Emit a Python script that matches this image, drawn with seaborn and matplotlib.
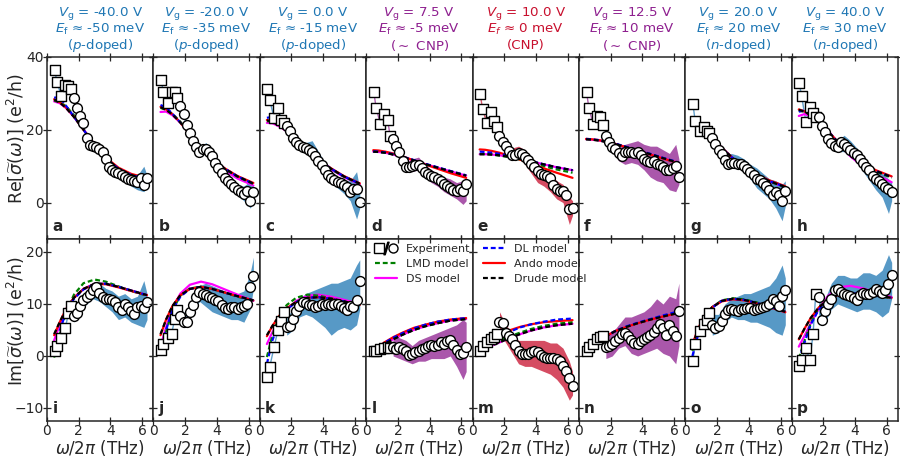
import matplotlib
matplotlib.use("Agg")
import matplotlib.pyplot as plt
import seaborn as sns
from matplotlib.lines import Line2D
from matplotlib.legend_handler import HandlerTuple

# --- frequency grids (THz) ---
SQ_F = [0.48, 0.63, 0.9, 1.15, 1.35, 1.52]
CIRC_F = [1.7, 1.9, 2.1, 2.3, 2.5, 2.7, 2.9, 3.1, 3.3, 3.5, 3.7, 3.9,
          4.1, 4.3, 4.5, 4.7, 4.9, 5.1, 5.3, 5.5, 5.7, 5.9, 6.1, 6.3]
BAND_F = [1.7, 2.1, 2.5, 2.9, 3.3, 3.7, 4.1, 4.5, 4.9, 5.3, 5.7, 6.1, 6.3]
MODEL_F = [0.45, 0.8, 1.2, 1.7, 2.3, 3.0, 3.7, 4.5, 5.3, 6.3]

# --- column headers ---
VG = ["-40.0", "-20.0", "0.0", "7.5", "10.0", "12.5", "20.0", "40.0"]
EF = ["-50", "-35", "-15", "-5", "0", "10", "20", "30"]
DOPING = [r"($p$-doped)", r"($p$-doped)", r"($p$-doped)", r"($\sim$ CNP)",
          "(CNP)", r"($\sim$ CNP)", r"($n$-doped)", r"($n$-doped)"]
REGIME = ["p", "p", "p", "near", "cnp", "near", "n", "n"]
LETTERS = "abcdefghijklmnop"

# --- Re part: experiment ---
RE_SQ = [
    [36.5, 33.1, 29.3, 32.2, 32.0, 31.3],
    [33.8, 30.4, 27.4, 30.4, 30.4, 28.8],
    [31.3, 28.1, 23.3, 26.0, 22.8, 22.0],
    [30.5, 26.0, 21.6, 24.4, 22.7, 18.2],
    [29.9, 25.8, 21.9, 24.9, 22.5, 20.9],
    [30.4, 26.0, 21.6, 23.7, 23.5, 21.4],
    [27.1, 22.3, 19.6, 20.7, 19.8, 19.0],
    [32.8, 29.2, 22.2, 26.3, 24.5, 23.5],
]
RE_CIRC = [
    [28.8, 26.0, 23.7, 21.9, 17.7, 15.8, 15.6, 15.4, 14.7, 13.8, 12.1, 9.8,
     8.9, 8.4, 8.0, 7.5, 7.0, 6.4, 6.1, 5.8, 5.6, 6.8, 4.9, 6.8],
    [26.5, 24.2, 21.4, 19.0, 16.8, 15.3, 14.0, 14.7, 14.8, 13.9, 12.8, 11.0,
     9.4, 8.0, 6.7, 6.0, 5.2, 4.3, 3.4, 2.9, 2.4, 3.2, 0.3, 2.9],
    [21.0, 19.6, 17.8, 16.6, 15.7, 15.2, 14.9, 14.4, 13.9, 12.9, 11.4, 10.3,
     8.9, 7.6, 6.7, 6.2, 5.7, 5.3, 4.8, 4.2, 2.9, 3.8, 3.6, 0.2],
    [17.6, 15.6, 14.0, 11.3, 9.8, 9.7, 10.1, 10.4, 10.3, 9.4, 8.5, 7.9,
     7.3, 7.0, 6.4, 5.8, 5.2, 4.6, 3.9, 3.5, 3.3, 3.7, 3.2, 5.1],
    [18.2, 16.7, 15.6, 14.2, 13.2, 13.1, 13.5, 13.3, 12.6, 11.7, 10.7, 9.8,
     8.8, 7.8, 7.5, 7.3, 6.7, 4.8, 3.8, 3.2, 3.3, 2.0, -1.8, -1.6],
    [18.2, 16.6, 15.4, 14.6, 13.5, 12.9, 14.0, 14.0, 13.8, 13.5, 14.0, 13.1,
     12.1, 11.4, 11.2, 11.4, 10.7, 10.3, 9.8, 8.9, 8.9, 9.5, 10.0, 7.0],
    [17.7, 16.2, 14.4, 13.4, 11.8, 10.6, 10.8, 11.0, 10.6, 10.5, 10.1, 9.3,
     8.4, 7.5, 6.6, 6.1, 5.3, 4.5, 3.5, 2.2, 2.8, 2.0, 0.5, 3.1],
    [23.5, 21.0, 19.3, 17.5, 16.3, 15.6, 15.4, 16.6, 16.0, 15.3, 14.4, 13.5,
     13.0, 12.0, 11.0, 9.8, 8.9, 7.4, 6.5, 5.8, 5.1, 4.3, 3.8, 2.9],
]
RE_LO = [
    [28, 23, 17, 15, 14, 11, 8, 6.8, 5.8, 4.5, 3.5, 3.0, 4.5],
    [25.5, 20.5, 16, 13, 13.5, 11, 8, 5, 3.5, 2, 0.5, -1.5, 0],
    [20, 16.5, 14.5, 13.5, 12.5, 10, 7.5, 5.5, 4, 2.5, 0.5, -4.5, -1.5],
    [16.5, 12.5, 8.5, 8.5, 9, 7, 5.5, 4.5, 3.0, 2.0, 1.0, -0.5, 0.5],
    [17, 14.5, 12.5, 12.5, 10.5, 8, 5.5, 4.5, 3, 1, 0, -6, -3.5],
    [17.5, 14.5, 11.5, 10.5, 11, 10.5, 9, 7, 6, 5.5, 3.5, 3, 5],
    [16.5, 13, 10.5, 9.5, 9.5, 8.5, 6.5, 4, 2.5, 1, -1.5, -5, -1],
    [22, 18, 15, 14, 14, 12.5, 11, 8.5, 6, 3.5, 1.5, -3, 0.5],
]
RE_HI = [
    [29.5, 24.5, 18.5, 16.5, 15.5, 13, 9.5, 8.5, 8, 7.5, 7.5, 10, 7.5],
    [27.5, 22.5, 17.5, 15, 16.5, 14.5, 10.5, 8, 6.5, 5, 4.5, 6, 4.5],
    [22, 19, 17, 16.5, 17, 14, 11, 8.5, 7, 6, 6, 8.5, 3.5],
    [19, 15, 11, 12, 12.5, 10.5, 9, 8, 7, 6.5, 5.5, 6, 6.5],
    [19.5, 17, 15, 15.5, 14.5, 12.5, 10, 8.5, 8, 6, 5, 1.5, 0.5],
    [19, 16.5, 15, 16, 16.5, 17, 16, 15.5, 15.5, 14.5, 13.5, 16, 12],
    [19, 15.5, 13, 13.5, 13, 12, 10.5, 9.5, 8, 6.5, 6, 5, 6],
    [24.5, 20.5, 17.5, 17, 18.5, 17, 15, 13, 10.5, 8.5, 8, 6.5, 5.5],
]

# --- Re part: models ---
RE_DRUDE = [
    [28.3, 27.5, 26.0, 23.5, 20.0, 15.8, 12.2, 9.3, 7.6, 6.4],
    [26.2, 25.5, 24.2, 22.0, 18.7, 15.0, 12.0, 9.3, 7.2, 5.2],
    [22.6, 22.2, 21.2, 19.7, 17.4, 14.5, 11.8, 9.3, 7.2, 5.2],
    [14.0, 13.9, 13.7, 13.2, 12.5, 11.6, 10.6, 9.6, 8.6, 7.4],
    [13.3, 13.3, 13.2, 13.0, 12.6, 12.0, 11.3, 10.5, 9.7, 8.9],
    [17.4, 17.3, 17.1, 16.7, 16.1, 15.2, 14.3, 13.3, 12.2, 10.9],
    [22.0, 21.3, 20.0, 17.8, 15.0, 12.2, 9.8, 7.6, 5.9, 4.3],
    [25.5, 25.0, 24.0, 22.2, 19.5, 16.2, 13.2, 10.6, 8.7, 7.0],
]
RE_ANDO = [
    [28.4, 27.6, 26.1, 23.6, 20.0, 15.9, 12.4, 9.6, 7.9, 6.7],
    [26.3, 25.6, 24.3, 22.0, 18.7, 15.0, 12.0, 9.4, 7.3, 5.4],
    [22.7, 22.3, 21.3, 19.7, 17.4, 14.5, 11.8, 9.4, 7.3, 5.3],
    [14.4, 14.3, 14.0, 13.5, 12.7, 11.6, 10.5, 9.3, 8.1, 6.8],
    [14.6, 14.5, 14.2, 13.7, 12.9, 11.8, 10.7, 9.4, 8.2, 6.8],
    [17.5, 17.4, 17.2, 16.8, 16.1, 15.2, 14.2, 13.2, 12.1, 10.8],
    [22.1, 21.4, 20.0, 17.8, 15.0, 12.2, 9.9, 7.8, 6.1, 4.5],
    [25.6, 25.1, 24.0, 22.2, 19.5, 16.3, 13.3, 10.8, 8.9, 7.2],
]
RE_DL = [
    [28.8, 29.0, 26.6, 23.6, 20.0, 15.8, 12.2, 9.3, 7.6, 6.4],
    [26.8, 26.2, 24.4, 22.0, 18.7, 15.0, 12.0, 9.3, 7.2, 5.2],
    [23.3, 23.5, 21.5, 19.6, 17.3, 14.5, 11.8, 9.3, 7.2, 5.2],
    [14.1, 14.0, 13.8, 13.3, 12.6, 11.7, 10.7, 9.7, 8.7, 7.5],
    [14.0, 13.9, 13.7, 13.4, 12.9, 12.2, 11.4, 10.5, 9.7, 8.9],
    [17.5, 17.4, 17.2, 16.8, 16.2, 15.3, 14.4, 13.4, 12.3, 11.0],
    [23.0, 22.0, 19.6, 17.3, 14.8, 12.2, 9.8, 7.6, 5.9, 4.3],
    [25.0, 25.3, 24.1, 22.2, 19.5, 16.2, 13.2, 10.6, 8.7, 7.0],
]
RE_LMD = [
    [28.0, 27.6, 26.5, 24.0, 20.2, 15.5, 11.9, 9.0, 7.3, 6.2],
    [26.0, 25.5, 24.4, 22.2, 18.8, 15.0, 11.9, 9.2, 7.1, 5.1],
    [22.3, 22.5, 21.6, 19.8, 17.4, 14.5, 11.7, 9.2, 7.1, 5.1],
    [14.0, 13.9, 13.7, 13.2, 12.5, 11.6, 10.6, 9.6, 8.6, 7.4],
    [13.3, 13.3, 13.2, 12.9, 12.5, 11.8, 11.0, 10.0, 9.1, 8.2],
    [17.4, 17.3, 17.1, 16.7, 16.1, 15.2, 14.3, 13.3, 12.2, 10.9],
    [22.0, 21.5, 20.2, 17.9, 15.0, 12.1, 9.7, 7.5, 5.8, 4.2],
    [25.2, 25.0, 24.2, 22.4, 19.6, 16.1, 13.0, 10.4, 8.5, 6.8],
]
RE_DS = [
    [27.8, 27.3, 26.0, 23.6, 20.1, 15.9, 12.2, 9.2, 7.4, 6.2],
    [24.9, 25.0, 24.0, 22.0, 18.8, 15.0, 11.7, 8.8, 6.6, 4.7],
    [21.9, 21.8, 21.0, 19.6, 17.4, 14.5, 11.7, 9.1, 7.0, 5.0],
    [14.0, 13.9, 13.7, 13.2, 12.5, 11.6, 10.6, 9.6, 8.6, 7.4],
    [13.3, 13.3, 13.2, 13.0, 12.6, 12.0, 11.3, 10.5, 9.7, 8.9],
    [17.4, 17.3, 17.1, 16.7, 16.1, 15.2, 14.3, 13.3, 12.2, 10.9],
    [21.8, 21.2, 20.0, 17.9, 15.1, 12.2, 9.7, 7.5, 5.8, 4.2],
    [23.8, 24.3, 23.8, 22.5, 19.8, 16.0, 12.7, 9.8, 7.7, 5.6],
]

# --- Im part: experiment ---
IM_SQ = [
    [1.0, 2.0, 3.5, 5.3, 8.2, 9.6],
    [1.2, 2.4, 3.4, 4.3, 7.2, 8.8],
    [-4.0, -2.1, 1.7, 5.0, 6.7, 8.4],
    [0.9, 1.0, 1.3, 1.5, 1.8, 1.5],
    [1.0, 2.0, 2.6, 3.3, 3.6, 4.2],
    [1.0, 1.7, 2.4, 3.3, 3.7, 3.9],
    [-0.9, 2.3, 4.9, 6.2, 6.9, 8.2],
    [-2.0, -0.7, 1.6, -0.8, 4.3, 12.0],
]
IM_CIRC = [
    [7.7, 8.2, 9.6, 10.7, 11.3, 11.9, 12.6, 13.2, 12.2, 11.3, 11.0, 11.0,
     10.7, 10.3, 9.4, 8.9, 10.0, 9.4, 8.6, 8.1, 9.4, 9.6, 9.2, 10.3],
    [7.6, 6.6, 6.6, 8.5, 9.9, 11.3, 12.3, 12.0, 11.7, 11.4, 11.2, 10.8,
     10.5, 9.8, 9.3, 9.0, 9.4, 9.5, 9.1, 9.5, 9.7, 10.0, 13.2, 15.3],
    [5.6, 5.8, 7.1, 8.6, 9.6, 10.3, 10.1, 9.8, 9.9, 9.5, 9.7, 10.0,
     9.8, 10.0, 9.8, 10.0, 10.0, 9.6, 9.2, 8.8, 9.6, 9.4, 10.8, 14.5],
    [1.8, 1.3, 1.8, 1.3, 0.9, 0.2, 0.4, 0.7, 1.0, 1.3, 1.6, 1.9,
     2.2, 2.0, 2.1, 2.7, 2.4, 2.9, 3.1, 2.2, 1.1, 0.4, 0.6, 1.7],
    [6.6, 6.3, 4.5, 3.8, 3.2, 2.2, 1.0, 0.3, 0.4, 0.4, 0.7, 1.0,
     0.7, 0.1, -0.1, -0.3, -0.4, -0.4, -0.6, -1.0, -2.0, -2.8, -4.2, -5.7],
    [1.7, 1.9, 2.3, 2.8, 3.4, 4.2, 4.4, 3.9, 3.1, 2.5, 2.4, 2.8,
     3.2, 3.7, 4.1, 4.7, 5.3, 6.2, 5.3, 4.1, 6.0, 4.8, 3.8, 8.7],
    [5.9, 5.4, 5.8, 6.8, 8.0, 8.8, 9.1, 8.8, 8.7, 9.0, 9.1, 9.2,
     9.3, 8.9, 9.1, 9.2, 9.4, 9.7, 10.0, 11.0, 10.5, 9.6, 11.5, 12.6],
    [11.3, 7.0, 8.6, 10.0, 11.0, 12.6, 12.8, 12.3, 12.0, 11.8, 11.5, 11.1,
     10.8, 11.8, 12.2, 12.0, 11.9, 12.4, 12.8, 12.5, 12.2, 12.7, 13.9, 15.5],
]
IM_LO = [
    [6.5, 8.5, 10, 11, 10.5, 9.5, 8.5, 7, 7.5, 6.5, 6, 5.5, 7],
    [6.5, 5.5, 8.5, 10.5, 9.5, 8.5, 8, 7.5, 7, 7, 6.5, 9, 13],
    [4, 5, 7.5, 8, 7.5, 6.5, 5.5, 4, 5, 5.5, 5, 6, 9],
    [0, -0.5, -1, -1.5, -1, -1, -0.5, -0.5, -0.5, 0, -2, -4.5, -3],
    [4.5, 2.5, 0.5, -1.5, -2, -2, -2.5, -3, -3.5, -4.5, -6, -8.5, -7.5],
    [-0.5, 0, 1.5, 2, 0.5, 0, 0.5, 1, 1.5, 0.5, 0, -1.5, 2],
    [4, 4.5, 6.5, 7.5, 7, 7, 6.5, 6.5, 6, 5.5, 4.5, 4, 6],
    [8, 6.5, 9, 10, 9.5, 9, 8.5, 9, 9, 8.5, 7.5, 8.5, 11],
]
IM_HI = [
    [9.5, 11, 12.5, 13.5, 14, 13, 12.5, 11.5, 12, 11, 11.5, 14.5, 12],
    [9, 8, 11, 13.5, 14, 13.5, 13, 12.5, 12, 12, 12.5, 16, 19],
    [7.5, 9, 11, 12, 12.5, 13, 13.5, 14, 14, 14.5, 15, 17.5, 18.5],
    [4, 3.5, 3, 2, 3, 3.5, 4, 4.5, 5, 5.5, 6, 7, 6.5],
    [8.5, 6, 4.5, 3, 3, 3, 3, 3, 2.5, 2.5, 1.5, -1, -3],
    [4, 4.5, 6, 7.5, 7.5, 8, 8.5, 9.5, 11, 10, 11.5, 11, 14],
    [8, 8, 10, 11, 11.5, 12, 12, 12.5, 13, 13.5, 15, 17.5, 15],
    [13, 11, 14, 15.5, 15.5, 15, 15, 16, 16, 15.5, 16.5, 19.5, 18],
]

# --- Im part: models ---
IM_DRUDE = [
    [4.2, 6.5, 9.0, 11.2, 12.9, 13.9, 13.9, 13.3, 12.6, 11.7],
    [4.2, 7.0, 9.6, 11.7, 12.9, 13.3, 12.9, 12.2, 11.5, 10.7],
    [4.0, 5.8, 7.6, 9.2, 10.4, 11.2, 11.3, 11.0, 10.5, 9.8],
    [1.1, 1.7, 2.4, 3.2, 4.1, 5.0, 5.7, 6.3, 6.8, 7.1],
    [1.0, 1.4, 2.0, 2.6, 3.4, 4.2, 4.9, 5.5, 5.9, 6.2],
    [1.0, 1.8, 2.8, 3.8, 4.8, 5.6, 6.3, 7.0, 7.6, 8.3],
    [2.0, 5.0, 7.6, 9.4, 10.6, 11.0, 10.8, 10.2, 9.5, 8.5],
    [3.2, 5.2, 7.3, 9.3, 10.9, 11.8, 12.0, 11.9, 11.6, 11.2],
]
IM_ANDO = [
    [4.0, 6.5, 9.0, 11.2, 12.9, 13.8, 13.8, 13.2, 12.5, 11.7],
    [4.0, 7.0, 9.6, 11.7, 12.9, 13.3, 12.9, 12.2, 11.5, 10.7],
    [3.8, 5.8, 7.6, 9.2, 10.4, 11.2, 11.3, 11.0, 10.5, 9.8],
    [1.2, 1.9, 2.7, 3.6, 4.5, 5.4, 6.0, 6.6, 7.0, 7.3],
    [1.3, 2.2, 3.1, 4.0, 4.9, 5.6, 6.1, 6.5, 6.7, 6.9],
    [1.0, 1.8, 2.8, 3.8, 4.8, 5.6, 6.3, 7.0, 7.6, 8.3],
    [2.2, 5.2, 7.7, 9.4, 10.5, 10.9, 10.7, 10.1, 9.4, 8.4],
    [3.2, 5.2, 7.3, 9.3, 10.9, 11.8, 12.0, 11.9, 11.6, 11.2],
]
IM_DL = [
    [0.5, 4.8, 8.5, 11.0, 12.8, 13.8, 13.9, 13.3, 12.6, 11.7],
    [0.8, 5.0, 8.8, 11.4, 12.9, 13.3, 12.9, 12.2, 11.5, 10.7],
    [-1.5, 3.0, 6.5, 8.9, 10.4, 11.2, 11.3, 11.0, 10.5, 9.8],
    [1.1, 1.8, 2.6, 3.5, 4.4, 5.3, 6.0, 6.6, 7.0, 7.3],
    [1.1, 1.8, 2.7, 3.6, 4.6, 5.5, 6.1, 6.6, 7.0, 7.2],
    [1.0, 1.8, 2.8, 3.8, 4.8, 5.7, 6.4, 7.1, 7.8, 8.6],
    [0.0, 4.0, 7.3, 9.3, 10.6, 11.0, 10.8, 10.2, 9.5, 8.5],
    [-0.8, 2.5, 6.0, 8.9, 10.9, 11.9, 12.1, 11.9, 11.6, 11.2],
]
IM_LMD = [
    [-0.3, 4.0, 8.4, 11.8, 14.0, 14.7, 14.3, 13.4, 12.5, 11.6],
    [0.2, 4.6, 8.8, 11.6, 13.0, 13.3, 12.9, 12.2, 11.4, 10.6],
    [-0.2, 4.0, 7.5, 9.8, 11.2, 11.8, 11.6, 11.1, 10.5, 9.7],
    [1.1, 1.7, 2.4, 3.2, 4.1, 5.0, 5.7, 6.3, 6.8, 7.1],
    [1.1, 1.6, 2.2, 2.9, 3.7, 4.5, 5.2, 5.8, 6.2, 6.5],
    [1.0, 1.8, 2.8, 3.8, 4.8, 5.6, 6.3, 7.0, 7.6, 8.3],
    [1.0, 4.5, 7.4, 9.4, 10.7, 11.1, 10.9, 10.3, 9.5, 8.5],
    [-0.5, 2.8, 6.3, 9.2, 11.1, 12.0, 12.1, 11.9, 11.6, 11.1],
]
IM_DS = [
    [3.0, 6.0, 9.0, 11.2, 12.9, 13.9, 13.9, 13.3, 12.6, 11.7],
    [1.8, 5.5, 9.2, 12.0, 13.7, 14.3, 13.8, 12.8, 11.8, 10.6],
    [2.3, 4.6, 6.8, 8.9, 10.6, 11.6, 11.8, 11.4, 10.8, 10.0],
    [1.1, 1.7, 2.4, 3.2, 4.1, 5.0, 5.7, 6.3, 6.8, 7.1],
    [1.0, 1.4, 2.0, 2.6, 3.4, 4.2, 4.9, 5.5, 5.9, 6.2],
    [1.0, 1.8, 2.8, 3.8, 4.8, 5.6, 6.3, 7.0, 7.6, 8.3],
    [2.0, 5.0, 7.6, 9.4, 10.6, 11.0, 10.8, 10.2, 9.5, 8.5],
    [1.8, 3.8, 6.3, 9.0, 11.6, 13.2, 13.5, 13.0, 12.2, 11.3],
]

# --- styling ---
sns.set_style("ticks")
plt.rcParams.update({
    "font.family": ["DejaVu Sans"],
    "axes.linewidth": 1.1,
    "xtick.direction": "inout", "ytick.direction": "inout",
    "xtick.major.size": 6, "ytick.major.size": 6,
    "xtick.major.width": 0.9, "ytick.major.width": 0.9,
    "xtick.major.pad": -1.0, "ytick.major.pad": -0.5,
    "xtick.top": True, "ytick.right": True,
    "xtick.labelsize": 10, "ytick.labelsize": 10,
})

REGIME_COLORS = {"p": "#1f77b4", "n": "#1f77b4", "near": "#8e1f8f", "cnp": "#c8102e"}
DASH = (0, (2.2, 1.3))
# (name, color, linestyle) in drawing order
MODEL_STYLE = [("DS", "#ff00ff", "-"), ("LMD", "#008000", DASH),
               ("Ando", "#ff0000", "-"), ("DL", "#0000ff", DASH),
               ("Drude", "black", DASH)]


def draw_panel(ax, color, sq, circ, lo, hi, models):
    ax.fill_between(BAND_F, lo, hi, color=color, alpha=0.75, lw=0, zorder=1)
    sns.lineplot(x=SQ_F, y=sq, ax=ax, color=color, lw=1.0, alpha=0.7, zorder=1)
    for vals, (name, c, ls) in zip(models, MODEL_STYLE):
        sns.lineplot(x=MODEL_F, y=vals, ax=ax, color=c, lw=1.6,
                     linestyle=ls, zorder=3)
    sns.scatterplot(x=SQ_F, y=sq, ax=ax, marker="s", s=52, color="white",
                    edgecolor="black", linewidth=1.0, zorder=5)
    sns.scatterplot(x=CIRC_F, y=circ, ax=ax, marker="o", s=50, color="white",
                    edgecolor="black", linewidth=1.0, zorder=6)


fig, axes = plt.subplots(2, 8, figsize=(9, 4.57), dpi=100, sharex=True,
                         sharey="row", gridspec_kw=dict(wspace=0, hspace=0))
fig.subplots_adjust(left=0.0522, right=0.9978, top=0.8753, bottom=0.0788)

for col in range(8):
    color = REGIME_COLORS[REGIME[col]]
    top, bot = axes[0, col], axes[1, col]
    draw_panel(top, color, RE_SQ[col], RE_CIRC[col], RE_LO[col], RE_HI[col],
               [RE_DS[col], RE_LMD[col], RE_ANDO[col], RE_DL[col], RE_DRUDE[col]])
    draw_panel(bot, color, IM_SQ[col], IM_CIRC[col], IM_LO[col], IM_HI[col],
               [IM_DS[col], IM_LMD[col], IM_ANDO[col], IM_DL[col], IM_DRUDE[col]])

    # three-line header above each column
    sub = "f" if REGIME[col] == "cnp" else r"\mathrm{f}"
    header = [r"$V_\mathrm{g}$ = " + VG[col] + " V",
              "$E_" + sub + "$ ≈ " + EF[col] + " meV",
              DOPING[col]]
    for line, ypos in zip(header, [1.238, 1.149, 1.062]):
        top.text(0.5, ypos, line, transform=top.transAxes, color=color,
                 fontsize=9.6, ha="center", va="center", clip_on=False)

    for ax, letter in ((top, LETTERS[col]), (bot, LETTERS[col + 8])):
        ax.text(0.05, 0.025, letter, transform=ax.transAxes, fontsize=11,
                fontweight="bold", ha="left", va="bottom", zorder=10)
    bot.set_xlabel(r"$\omega/2\pi$ (THz)", fontsize=12, labelpad=0)

axes[0, 0].set_xlim(0, 6.7)
axes[0, 0].set_xticks([0, 2, 4, 6])
axes[0, 0].set_ylim(-10, 40)
axes[0, 0].set_yticks([0, 20, 40])
axes[1, 0].set_ylim(-12.5, 22.5)
axes[1, 0].set_yticks([-10, 0, 10, 20])
axes[0, 0].set_ylabel(r"Re[$\widetilde{\sigma}(\omega)$] (e$^2$/h)", fontsize=12.5)
axes[1, 0].set_ylabel(r"Im[$\widetilde{\sigma}(\omega)$] (e$^2$/h)", fontsize=12.5)
for ax in axes[:, 0]:
    ax.yaxis.set_label_coords(-0.2, 0.55)

# legend spanning panels l and m
exp_handle = (
    Line2D([], [], ls="", marker="s", ms=6.5, mfc="white", mec="black", mew=1.0),
    Line2D([], [], ls="", marker="$/$", ms=9, color="black"),
    Line2D([], [], ls="", marker="o", ms=6.5, mfc="white", mec="black", mew=1.0),
)
model_handles = {name: Line2D([], [], color=c, lw=1.6, ls=ls)
                 for name, c, ls in MODEL_STYLE}
handles = [exp_handle, model_handles["LMD"], model_handles["DS"],
           model_handles["DL"], model_handles["Ando"], model_handles["Drude"]]
labels = ["Experiment", "LMD model", "DS model", "DL model", "Ando model",
          "Drude model"]
fig.legend(handles, labels, handler_map={tuple: HandlerTuple(ndivide=None, pad=0.0)},
           ncol=2, loc="upper left", bbox_to_anchor=(0.408, 0.484),
           frameon=False, fontsize=8, handlelength=2.0, handletextpad=0.8,
           columnspacing=1.1, labelspacing=0.45, borderpad=0.2)

fig.savefig("out.png", dpi=100)
